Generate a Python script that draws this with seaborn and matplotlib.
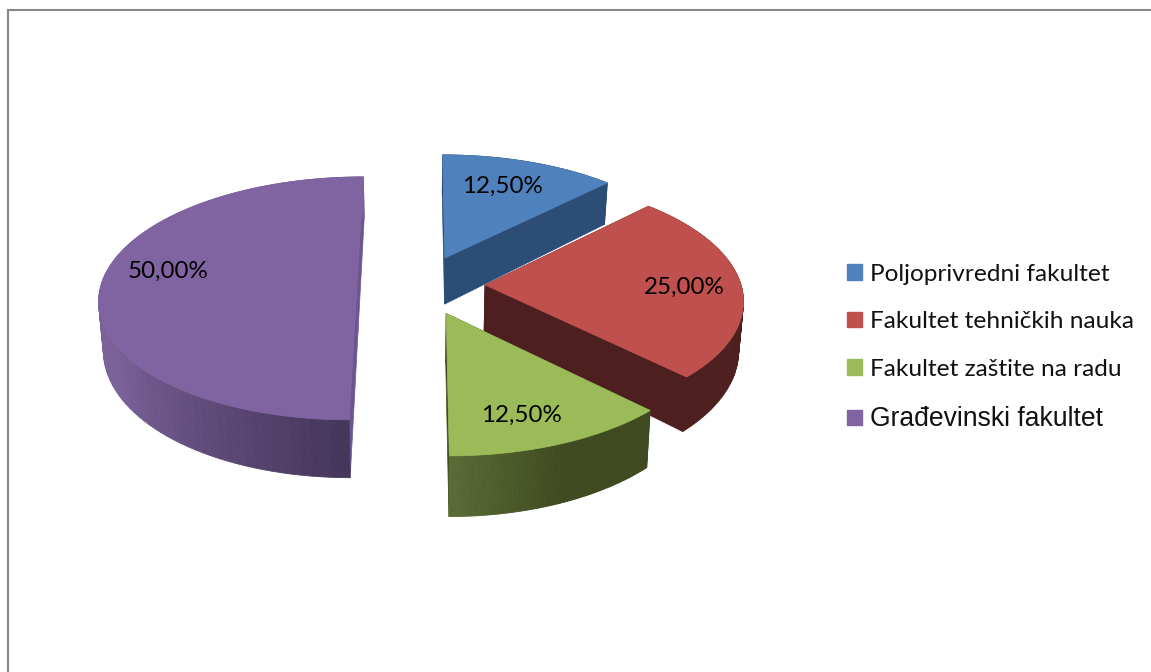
import numpy as np
import seaborn as sns
import matplotlib.pyplot as plt
from matplotlib.patches import Patch

# data
categories = ["Poljoprivredni fakultet", "Fakultet tehničkih nauka", "Fakultet zaštite na radu", "Građevinski fakultet"]
shares = [12.5, 25.0, 12.5, 50.0]

# colours
top_colors = ["#4F81BD", "#C0504D", "#9BBB59", "#8064A2"]
wall_stops = [["#2C4D75", "#2C4D75"],
              ["#4D1F1E", "#4D1F1E"],
              ["#3F4A20", "#3F4A20", "#5A6B35"],
              ["#45365B", "#7A6298", "#7A6298", "#7A6298"]]
cut_colors = ["#2C4D75", "#4D1F1E", "#3F4A20", "#6C5690"]

# perspective settings (pixels)
CX, CY = 421, 285
RX, RY = 256, 120
DEPTH = 48
PERSP = 0.11
EXPLODE = 0.25
label_r = [0.72, 0.775, 0.78, 0.76]
label_turn = [-2, 1.5, 3.5, 9]

sns.set_theme(style="white")
plt.rcParams["font.family"] = ["Lato", "DejaVu Sans"]


def project(x, y, z=0.0):
    # z=1 is the bottom plane of the pie
    s = 1 / (1 - PERSP * y)
    xs = CX + RX * x * s * (1 - 0.015 * z)
    ys = CY + RY * y * s + DEPTH * z / (1 - 0.17 * y)
    return xs, ys


fig, ax = plt.subplots(figsize=(11.51, 6.72), dpi=100)
ax.set_position([0, 0, 1, 1])
ax.set_xlim(0, 1151)
ax.set_ylim(672, 0)
ax.axis("off")

# chart frame, only top and left show
ax.plot([8.5, 8.5, 1151], [672, 9.5, 9.5], color="#868686", lw=1.5, solid_joinstyle="miter")

fractions = np.array(shares) / sum(shares)
ends = np.cumsum(fractions) * 2 * np.pi
starts = ends - fractions * 2 * np.pi

# back to front
for i in [3, 0, 1, 2]:
    a0, a1 = starts[i], ends[i]
    mid = (a0 + a1) / 2
    ox, oy = EXPLODE * np.sin(mid), -EXPLODE * np.cos(mid)
    angles = np.linspace(a0, a1, 90)
    rimx = ox + np.sin(angles)
    rimy = oy - np.cos(angles)

    # straight cut faces
    for px, py in [(rimx[0], rimy[0]), (rimx[-1], rimy[-1])]:
        xs, ys = [], []
        for x, y, z in [(ox, oy, 0), (px, py, 0), (px, py, 1), (ox, oy, 1)]:
            u, v = project(x, y, z)
            xs.append(u)
            ys.append(v)
        ax.fill(xs, ys, color=cut_colors[i], lw=0.5)

    # outer wall in small strips
    shades = sns.blend_palette(wall_stops[i], n_colors=len(angles) - 1)
    for k in range(len(angles) - 1):
        xs, ys = [], []
        for x, y, z in [(rimx[k], rimy[k], 0), (rimx[k + 1], rimy[k + 1], 0),
                        (rimx[k + 1], rimy[k + 1], 1), (rimx[k], rimy[k], 1)]:
            u, v = project(x, y, z)
            xs.append(u)
            ys.append(v)
        ax.fill(xs, ys, color=shades[k], lw=0.6)

    # top
    tx, ty = project(np.r_[ox, rimx], np.r_[oy, rimy])
    ax.fill(tx, ty, color=top_colors[i], lw=0.5)

# data labels
for i, share in enumerate(shares):
    mid = (starts[i] + ends[i]) / 2
    ox, oy = EXPLODE * np.sin(mid), -EXPLODE * np.cos(mid)
    a = mid + np.radians(label_turn[i])
    u, v = project(ox + label_r[i] * np.sin(a), oy - label_r[i] * np.cos(a))
    ax.text(u, v, f"{share:.2f}%".replace(".", ","), fontsize=17.4, color="black", ha="center", va="center")

handles = [Patch(color=c, label=n) for c, n in zip(top_colors, categories)]
leg = ax.legend(handles=handles, loc="upper left", bbox_to_anchor=(837, 254), bbox_transform=ax.transData,
                frameon=False, fontsize=17.6, handlelength=0.61, handleheight=0.61, handletextpad=0.33,
                labelspacing=1.08, borderpad=0.4, borderaxespad=0)
for t in leg.get_texts():
    t.set_color("#111111")
leg.get_texts()[-1].set_family("Liberation Sans")
leg.get_texts()[-1].set_fontsize(19.1)

fig.savefig("out.png", dpi=100)
